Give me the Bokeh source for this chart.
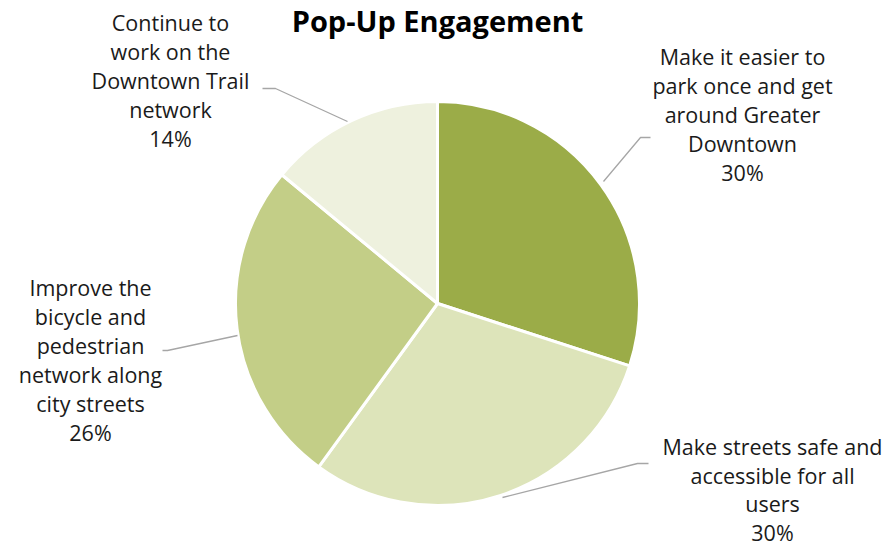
import math
from bokeh.plotting import figure
from bokeh.models import ColumnDataSource
from bokeh.core.properties import value
from bokeh.embed import file_html
from bokeh.resources import INLINE

# ---- data ----
categories = [
    "Make it easier to park once and get around Greater Downtown",
    "Make streets safe and accessible for all users",
    "Improve the bicycle and pedestrian network along city streets",
    "Continue to work on the Downtown Trail network",
]
shares = [30, 30, 26, 14]
colors = ["#9BAC48", "#DDE4BA", "#C3CE87", "#EEF1DE"]
label_lines = [
    ["Make it easier to", "park once and get", "around Greater", "Downtown"],
    ["Make streets safe and", "accessible for all", "users"],
    ["Improve the", "bicycle and", "pedestrian", "network along", "city streets"],
    ["Continue to", "work on the", "Downtown Trail", "network"],
]
title_text = "Pop-Up Engagement"

# ---- layout (screen pixel coordinates; y measured from top) ----
W, H = 894, 548
FONT = "Open Sans"
cx, cy_top, R = 437, 303, 202
label_pos = [(742, 56), (772, 446), (90, 287), (170, 22)]
line_steps = [29, 28.5, 29, 29]
leaders = [
    [(603, 181), (640, 137), (650, 137)],
    [(502, 497), (637, 463), (648, 463)],
    [(237, 335), (167, 350), (162, 350)],
    [(347, 121), (275, 88), (262, 88)],
]

def Y(py):
    return H - py

p = figure(width=W, height=H, x_range=(0, W), y_range=(0, H),
           output_backend="svg", toolbar_location=None, min_border=0)
p.axis.visible = False
p.grid.visible = False
p.outline_line_color = None
p.background_fill_color = "white"
p.border_fill_color = "white"

total = float(sum(shares))
starts, ends = [], []
cum = 0.0
for s in shares:
    a0 = math.pi / 2 - 2 * math.pi * (cum + s) / total
    a1 = math.pi / 2 - 2 * math.pi * cum / total
    starts.append(a0)
    ends.append(a1)
    cum += s

src = ColumnDataSource(dict(start=starts, end=ends, color=colors,
                            x=[cx] * len(shares), y=[Y(cy_top)] * len(shares)))
p.wedge(x="x", y="y", radius=R, start_angle="start", end_angle="end",
        fill_color="color", line_color="white", line_width=3, source=src)

# leader lines
for pts in leaders:
    p.line([q[0] for q in pts], [Y(q[1]) for q in pts], line_color="#A6A6A6", line_width=1.3)

# labels
for (lx, ly), step, lines, s in zip(label_pos, line_steps, label_lines, shares):
    all_lines = lines + [f"{s}%"]
    xs = [lx] * len(all_lines)
    ys = [Y(ly + i * step) for i in range(len(all_lines))]
    p.text(x=xs, y=ys, text=all_lines, text_align="center", text_baseline="middle",
           text_font=value(FONT), text_font_size="21.5px", text_color="#1A1A1A")

# title
p.text(x=[437], y=[Y(20)], text=[title_text], text_align="center", text_baseline="middle",
       text_font=value(FONT), text_font_size="29px", text_font_style="bold", text_color="black")

open("out.html", "w").write(file_html(p, INLINE))
